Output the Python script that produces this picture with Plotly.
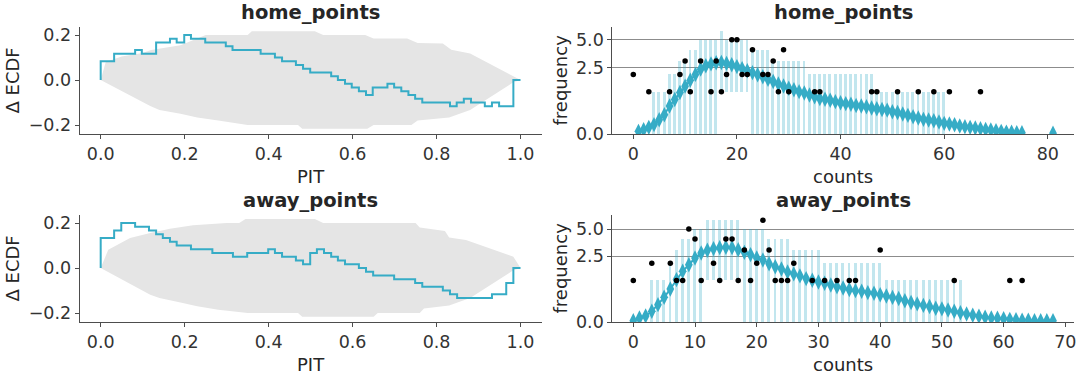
import math
import plotly.graph_objects as go

# ---------------- data ----------------
# PIT ECDF difference (step line), home
home_pit_x = [0, 0, 0.032, 0.082, 0.098, 0.132, 0.165, 0.181, 0.199, 0.215, 0.249, 0.298, 0.314,
              0.381, 0.415, 0.432, 0.465, 0.482, 0.499, 0.549, 0.565, 0.582, 0.598, 0.615, 0.632,
              0.648, 0.683, 0.699, 0.716, 0.733, 0.749, 0.766, 0.832, 0.848, 0.865, 0.882, 0.915,
              0.932, 0.949, 0.983, 1.0]
home_pit_dy = [0, 0.083, 0.117, 0.133, 0.117, 0.167, 0.183, 0.167, 0.2, 0.183, 0.167, 0.15, 0.133,
               0.117, 0.1, 0.083, 0.067, 0.05, 0.033, 0.017, 0.0, -0.017, -0.033, -0.05, -0.067,
               -0.033, -0.017, -0.033, -0.05, -0.067, -0.083, -0.1, -0.117, -0.1, -0.083, -0.1, -0.117,
               -0.1, -0.117, 0.0, 0.0]
# PIT ECDF difference (step line), away
away_pit_x = [0, 0, 0.032, 0.049, 0.082, 0.115, 0.132, 0.148, 0.165, 0.181, 0.215, 0.266, 0.315,
              0.349, 0.399, 0.415, 0.432, 0.465, 0.482, 0.499, 0.515, 0.532, 0.549, 0.565, 0.582,
              0.615, 0.632, 0.649, 0.699, 0.749, 0.766, 0.815, 0.832, 0.849, 0.932, 0.966, 0.983, 1.0]
away_pit_dy = [0, 0.133, 0.167, 0.2, 0.183, 0.167, 0.15, 0.133, 0.117, 0.1, 0.083, 0.067, 0.05,
               0.067, 0.083, 0.067, 0.05, 0.033, 0.017, 0.067, 0.083, 0.067, 0.05, 0.033, 0.017,
               0.0, -0.017, -0.033, -0.05, -0.067, -0.083, -0.1, -0.117, -0.133, -0.117, -0.067, 0.0, 0.0]

# envelopes
home_env_up_x = [0.0, 0.012, 0.05, 0.1, 0.12, 0.14, 0.19, 0.23, 0.25, 0.35, 0.36, 0.51, 0.53, 0.63,
                 0.65, 0.73, 0.755, 0.815, 0.835, 0.88, 0.983, 1.0]
home_env_up_y = [0.0, 0.08, 0.105, 0.12, 0.133, 0.14, 0.155, 0.185, 0.2, 0.2, 0.217, 0.217, 0.2, 0.2,
                 0.184, 0.184, 0.165, 0.162, 0.135, 0.118, 0.015, 0.0]
home_env_lo_x = [0.0, 0.118, 0.14, 0.19, 0.23, 0.28, 0.35, 0.47, 0.48, 0.635, 0.65, 0.74, 0.755,
                 0.83, 0.88, 0.983, 1.0]
home_env_lo_y = [0.0, -0.115, -0.133, -0.15, -0.167, -0.18, -0.2, -0.2, -0.217, -0.217, -0.2, -0.2,
                 -0.18, -0.167, -0.133, -0.01, 0.0]
away_env_up_x = [0.0, 0.018, 0.07, 0.118, 0.165, 0.22, 0.3, 0.33, 0.345, 0.51, 0.53, 0.65, 0.66,
                 0.75, 0.76, 0.82, 0.83, 0.87, 0.983, 1.0]
away_env_up_y = [0.0, 0.081, 0.133, 0.156, 0.175, 0.19, 0.2, 0.2, 0.218, 0.218, 0.2, 0.2, 0.2,
                 0.2, 0.18, 0.165, 0.136, 0.125, 0.05, 0.0]
away_env_lo_x = [0.0, 0.118, 0.14, 0.19, 0.23, 0.28, 0.35, 0.47, 0.48, 0.65, 0.66, 0.76, 0.77,
                 0.83, 0.88, 0.983, 1.0]
away_env_lo_y = [0.0, -0.119, -0.133, -0.153, -0.17, -0.185, -0.2, -0.2, -0.217, -0.217, -0.2, -0.2,
                 -0.18, -0.167, -0.133, -0.01, 0.0]

# rootogram: predicted HDI bars (frequency), home
home_bar_counts = list(range(4, 61))
home_bar_high = [1, 1, 1, 2, 2, 3, 3, 4, 4, 5, 5, 5, 5, 6, 5, 5, 5, 5, 5, 4, 4, 4, 4,
                 3, 3, 3, 3, 3, 3, 3, 2, 2, 2, 2, 2, 2, 2, 2, 2, 2, 2, 2, 2,
                 1, 1, 1, 1, 1, 1, 1, 1, 1, 1, 1, 1, 1, 1]
home_bar_low = [0, 0, 0, 0, 0, 0, 0, 0, 0, 0, 0, 0, 0, 1, 1, 1, 1, 1, 1, 0, 0, 0, 0,
                0, 0, 0, 0, 0, 0, 0, 0, 0, 0, 0, 0, 0, 0, 0, 0, 0, 0, 0, 0,
                0, 0, 0, 0, 0, 0, 0, 0, 0, 0, 0, 0, 0, 0]
# predicted mean frequency, home (gap 76-80)
home_pred_counts = list(range(1, 82))
home_pred_freq = [0.004, 0.01, 0.025, 0.05, 0.115, 0.21, 0.44, 0.67, 0.97, 1.29, 1.63, 2.0, 2.37,
                  2.62, 2.77, 2.86, 2.88, 2.81, 2.7, 2.56, 2.41, 2.25, 2.12, 1.98, 1.85, 1.69, 1.55,
                  1.41, 1.3, 1.18, 1.1, 1.01, 0.95, 0.86, 0.78, 0.71, 0.68, 0.64, 0.59, 0.55, 0.52,
                  0.5, 0.46, 0.44, 0.42, 0.38, 0.36, 0.34, 0.32, 0.28, 0.26, 0.225, 0.196, 0.169,
                  0.144, 0.121, 0.11, 0.1, 0.081, 0.064, 0.056, 0.049, 0.036, 0.03, 0.025, 0.02,
                  0.016, 0.012, 0.009, 0.006, 0.004, 0.002, 0.0016, 0.001, 0.001,
                  None, None, None, None, None, 0.0003]
home_obs_counts = [0, 3, 7, 9, 10, 11, 13, 15, 16, 17, 18, 19, 20, 21, 22, 23, 25, 26, 27, 28, 29,
                   30, 35, 36, 46, 47, 51, 55, 58, 61, 67]
home_obs_freq = [2, 1, 1, 2, 3, 1, 3, 1, 3, 1, 2, 5, 5, 2, 2, 4, 2, 2, 3, 1, 4,
                 1, 1, 1, 1, 1, 1, 1, 1, 1, 1]

# rootogram, away
away_bar_counts = list(range(3, 54))
away_bar_high = [1, 1, 1, 2, 3, 4, 4, 5, 5, 6, 6, 6, 6, 6, 6, 5, 5, 5, 5, 4, 4, 4, 4,
                 3, 3, 3, 3, 3, 2, 2, 2, 2, 2, 2, 2, 2, 2, 2,
                 1, 1, 1, 1, 1, 1, 1, 1, 1, 1, 1, 1, 1]
away_bar_low = [0, 0, 0, 0, 0, 0, 0, 0, 0, 1, 1, 1, 1, 1, 1, 0, 0, 0, 0, 0, 0, 0, 0,
                0, 0, 0, 0, 0, 0, 0, 0, 0, 0, 0, 0, 0, 0, 0,
                0, 0, 0, 0, 0, 0, 0, 0, 0, 0, 0, 0, 0]
away_pred_counts = list(range(0, 69))
away_pred_freq = [0.001, 0.009, 0.021, 0.066, 0.174, 0.353, 0.63, 1.04, 1.49, 1.9, 2.37, 2.76, 2.98,
                  3.12, 3.2, 3.23, 3.2, 3.03, 2.81, 2.63, 2.37, 2.23, 1.97, 1.77, 1.63, 1.45, 1.34,
                  1.23, 1.09, 1.01, 0.93, 0.87, 0.79, 0.72, 0.67, 0.61, 0.57, 0.55, 0.5, 0.48, 0.43,
                  0.39, 0.35, 0.32, 0.26, 0.22, 0.19, 0.16, 0.14, 0.11, 0.1, 0.083, 0.066, 0.05,
                  0.037, 0.026, 0.019, 0.013, 0.009, 0.008, 0.006, 0.004, 0.003, 0.002, 0.002,
                  0.001, 0.001, 0.001, 0.001]
away_obs_counts = [0, 3, 6, 7, 8, 9, 10, 11, 13, 14, 15, 16, 17, 18, 19, 20, 21, 22, 23, 24, 25,
                   26, 29, 31, 33, 35, 36, 40, 52, 61, 63]
away_obs_freq = [1, 2, 2, 1, 1, 5, 4, 1, 2, 1, 4, 4, 1, 3, 1, 2, 6, 3, 1, 1, 1,
                 2, 1, 1, 1, 1, 1, 3, 1, 1, 1]

freq_ticks = [0, 2.5, 5.0]
freq_ticktext = ["0.0", "2.5", "5.0"]
titles = ["home_points", "away_points"]

# ---------------- styling ----------------
BLUE = "#36acc6"
BAR = "rgba(54,172,198,0.30)"
ENV = "#e5e5e5"
AX = "#4d4d4d"
TXT = "#262626"
FONT = "DejaVu Sans"


def sq(v):
    return [None if a is None else math.sqrt(a) for a in v]


fig = go.Figure()

panels = [
    (home_pit_x, home_pit_dy, home_env_up_x, home_env_up_y, home_env_lo_x, home_env_lo_y, "x", "y"),
    (away_pit_x, away_pit_dy, away_env_up_x, away_env_up_y, away_env_lo_x, away_env_lo_y, "x3", "y3"),
]
for px, py, ux, uy, lx, ly, xa, ya in panels:
    fig.add_trace(go.Scatter(x=ux + lx[::-1], y=uy + ly[::-1], fill="toself", fillcolor=ENV,
                             mode="lines", line=dict(width=0), hoverinfo="skip",
                             xaxis=xa, yaxis=ya, showlegend=False))
    fig.add_trace(go.Scatter(x=px, y=py, mode="lines", line=dict(color=BLUE, width=2, shape="hv"),
                             xaxis=xa, yaxis=ya, showlegend=False))

roots = [
    (home_bar_counts, home_bar_low, home_bar_high, home_pred_counts, home_pred_freq,
     home_obs_counts, home_obs_freq, 0.55, "x2", "y2"),
    (away_bar_counts, away_bar_low, away_bar_high, away_pred_counts, away_pred_freq,
     away_obs_counts, away_obs_freq, 0.47, "x4", "y4"),
]
for bc, bl, bh, pc, pf, oc, of, bw, xa, ya in roots:
    slo, shi = sq(bl), sq(bh)
    fig.add_trace(go.Bar(x=bc, base=slo, y=[h - l for h, l in zip(shi, slo)], width=bw,
                         marker=dict(color=BAR, line=dict(width=0)),
                         xaxis=xa, yaxis=ya, showlegend=False))
    fig.add_trace(go.Scatter(x=pc, y=sq(pf), mode="lines+markers", connectgaps=False,
                             line=dict(color=BLUE, width=2),
                             marker=dict(symbol="diamond-tall", size=11, color=BLUE),
                             xaxis=xa, yaxis=ya, showlegend=False))
    fig.add_trace(go.Scatter(x=oc, y=sq(of), mode="markers",
                             marker=dict(color="black", size=5.5),
                             xaxis=xa, yaxis=ya, showlegend=False))

W, H = 1080, 376
left_dom = [79.7 / W, 541.5 / W]
right_dom = [612.3 / W, 1074.0 / W]
top_dom = [1 - 134 / H, 1 - 27 / H]
bot_dom = [1 - 322 / H, 1 - 215 / H]

common = dict(showline=True, linecolor=AX, linewidth=1, ticks="outside", ticklen=4,
              tickcolor=AX, tickwidth=1, zeroline=False, showgrid=False,
              automargin=False, ticklabeloverflow="allow",
              tickfont=dict(family=FONT, size=17.5, color="#333333"))

pit_x = dict(common, range=[-0.05, 1.05], tickvals=[0, 0.2, 0.4, 0.6, 0.8, 1.0], tickformat=".1f")
pit_y = dict(common, range=[-0.24, 0.2356], tickvals=[-0.2, 0, 0.2], tickformat=".1f")
freq_y = dict(common, tickvals=sq(freq_ticks), ticktext=freq_ticktext, showgrid=True,
              gridcolor="#8c8c8c", gridwidth=1)

fig.update_layout(
    width=W, height=H, margin=dict(l=0, r=0, t=0, b=0, autoexpand=False),
    paper_bgcolor="white", plot_bgcolor="white", barmode="overlay", bargap=0,
    xaxis=dict(pit_x, domain=left_dom, anchor="y"),
    yaxis=dict(pit_y, domain=top_dom, anchor="x"),
    xaxis2=dict(common, domain=right_dom, anchor="y2", range=[-4.05, 85.05],
                tickvals=[0, 20, 40, 60, 80]),
    yaxis2=dict(freq_y, domain=top_dom, anchor="x2", range=[0, 2.54]),
    xaxis3=dict(pit_x, domain=left_dom, anchor="y3"),
    yaxis3=dict(pit_y, domain=bot_dom, anchor="x3"),
    xaxis4=dict(common, domain=right_dom, anchor="y4", range=[-3.4, 71.4],
                tickvals=[0, 10, 20, 30, 40, 50, 60, 70]),
    yaxis4=dict(freq_y, domain=bot_dom, anchor="x4", range=[0, 2.575]),
)

ann = []
for row, (ytitle, yxlab, ymid) in enumerate([(13, 176, 80.5), (201, 364, 268.5)]):
    for dom, xl, yl in [(left_dom, "PIT", "Δ ECDF"), (right_dom, "counts", "frequency")]:
        cx = (dom[0] + dom[1]) / 2
        ann.append(dict(x=cx, y=1 - ytitle / H, xref="paper", yref="paper", showarrow=False,
                        text="<b>" + titles[row] + "</b>", xanchor="center", yanchor="middle",
                        font=dict(family=FONT, size=19.5, color=TXT)))
        ann.append(dict(x=cx, y=1 - yxlab / H, xref="paper", yref="paper", showarrow=False,
                        text=xl, xanchor="center", yanchor="middle",
                        font=dict(family=FONT, size=18, color=TXT)))
        yx = 12 if xl == "PIT" else 560
        ann.append(dict(x=yx / W, y=1 - ymid / H, xref="paper", yref="paper", showarrow=False,
                        text=yl, textangle=-90, xanchor="center", yanchor="middle",
                        font=dict(family=FONT, size=18, color=TXT)))
fig.update_layout(annotations=ann)

fig.write_html("out.html", config={"displayModeBar": False},
               post_script="document.body.style.margin='0';document.body.style.padding='0';"
                           "document.body.style.overflow='hidden';")
